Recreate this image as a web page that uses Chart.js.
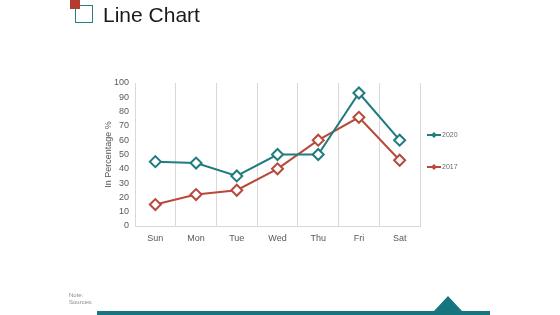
<!DOCTYPE html>
<html><head><meta charset="utf-8">
<script src="https://cdn.jsdelivr.net/npm/chart.js@4"></script>
<style>
html,body{margin:0;padding:0;background:#fff;width:560px;height:315px;overflow:hidden;font-family:"Liberation Sans",Arial,sans-serif;}
#wrap{position:relative;width:560px;height:315px;}
canvas{position:absolute;left:0;top:0;}
.t{position:absolute;white-space:nowrap;}
</style></head><body>
<div id="wrap">
<canvas id="c" width="560" height="315"></canvas>
<div style="position:absolute;left:75px;top:5px;width:16px;height:16px;border:1.5px solid #2a7f83;"></div>
<div style="position:absolute;left:70px;top:0px;width:10px;height:9px;background:#b53a30;"></div>
<div class="t" style="left:103px;top:3px;font-size:21px;color:#1a1a1a;">Line Chart</div>
<div class="t" style="left:69px;top:292px;font-size:6px;color:#8a8a8a;line-height:7px;">Note:<br>Sources:</div>
<svg style="position:absolute;left:0;top:0" width="560" height="315">
<polygon points="97,311 434,311 448,296 462,311 490,311 490,315 97,315" fill="#177580"/>
</svg>
</div>
<script>
const categories = ["Sun","Mon","Tue","Wed","Thu","Fri","Sat"];
const series2020 = [45,44,35,50,50,93,60];
const series2017 = [15,22,25,40,60,76,46];
const seriesLabels = ["2020","2017"];
const yTicks = [0,10,20,30,40,50,60,70,80,90,100];

const teal = "#217c80";
const red = "#b8493b";

const legendPlugin = {
  id: "customLegend",
  afterDraw(chart){
    const ctx = chart.ctx;
    const ys = [135,167];
    chart.data.datasets.forEach((ds,i)=>{
      const y = ys[i];
      ctx.save();
      ctx.strokeStyle = ds.borderColor;
      ctx.lineWidth = 2;
      ctx.beginPath(); ctx.moveTo(427,y); ctx.lineTo(441,y); ctx.stroke();
      ctx.fillStyle = ds.borderColor;
      ctx.beginPath(); ctx.moveTo(434,y-3); ctx.lineTo(437,y); ctx.lineTo(434,y+3); ctx.lineTo(431,y); ctx.closePath(); ctx.fill();
      ctx.fillStyle = "#6a6a6a";
      ctx.font = '7px "Liberation Sans", Arial, sans-serif';
      ctx.textBaseline = "middle";
      ctx.fillText(ds.label, 442, y);
      ctx.restore();
    });
  }
};

new Chart(document.getElementById("c"), {
  type: "line",
  data: {
    labels: categories,
    datasets: [
      {label: seriesLabels[0], data: series2020, borderColor: teal, backgroundColor: "#fff",
       borderWidth: 2, pointStyle: "rectRot", pointRadius: 5.5, pointBorderWidth: 2,
       pointBackgroundColor: "#fff", pointBorderColor: teal, tension: 0},
      {label: seriesLabels[1], data: series2017, borderColor: red, backgroundColor: "#fff",
       borderWidth: 2, pointStyle: "rectRot", pointRadius: 5.5, pointBorderWidth: 2,
       pointBackgroundColor: "#fff", pointBorderColor: red, tension: 0}
    ]
  },
  options: {
    responsive: false,
    animation: false,
    devicePixelRatio: 1,
    layout: {padding: {left: 99, right: 140, top: 83, bottom: 69}},
    plugins: {legend: {display: false}, tooltip: {enabled: false}},
    scales: {
      x: {
        offset: true,
        grid: {color: "#d9d9d9", offset: true, drawTicks: false, lineWidth: 1},
        border: {color: "#d9d9d9"},
        ticks: {color: "#595959", font: {size: 9, family: '"Liberation Sans", Arial, sans-serif'}, padding: 7},
        afterFit: s => { s.height = 20; }
      },
      y: {
        min: 0, max: 100,
        afterBuildTicks: s => { s.ticks = yTicks.map(v => ({value: v})); },
        grid: {display: true, drawOnChartArea: false, drawTicks: false},
        border: {color: "#d9d9d9"},
        ticks: {color: "#595959", font: {size: 9, family: '"Liberation Sans", Arial, sans-serif'}, padding: 6},
        title: {display: true, text: "In Percentage %", color: "#595959", font: {size: 9, family: '"Liberation Sans", Arial, sans-serif'}, padding: {top: 4, bottom: 4}},
        afterFit: s => { s.width = 36; }
      }
    }
  },
  plugins: [legendPlugin]
});
</script>
</body></html>
